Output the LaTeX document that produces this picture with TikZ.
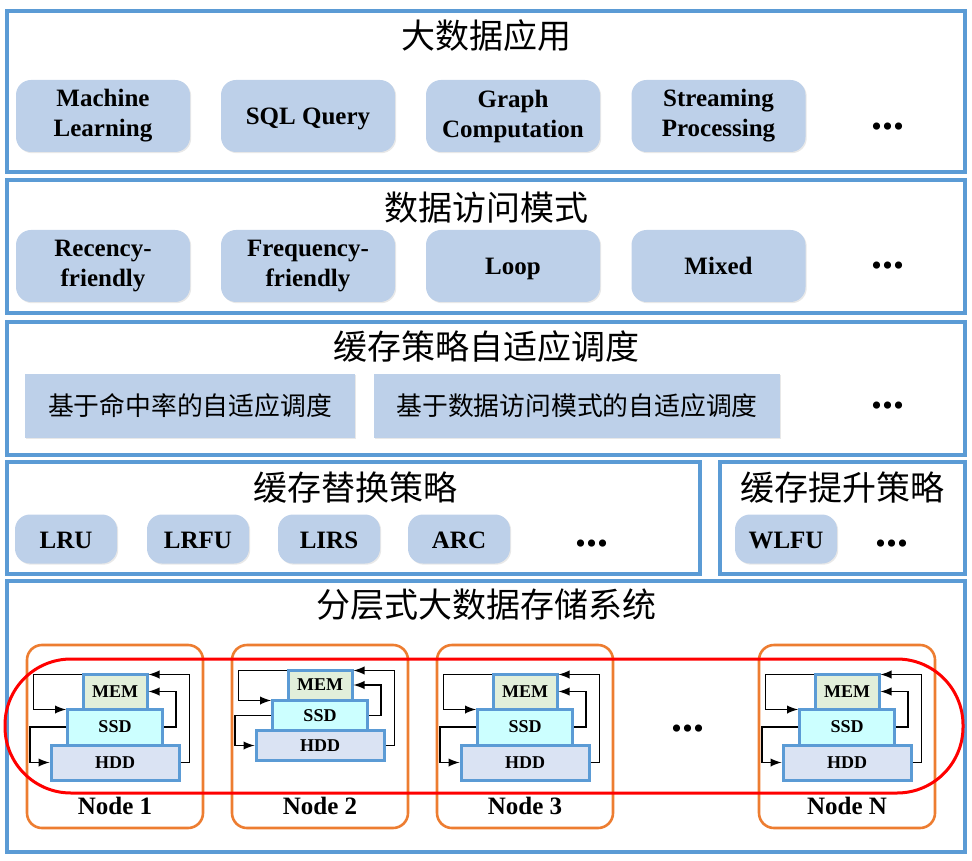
\documentclass[tikz,border=0pt]{standalone}
\usepackage{fontspec}
\setmainfont{Liberation Serif}
\newfontfamily\cjk{Noto Sans CJK SC}
\usetikzlibrary{positioning,calc,shadows}
\definecolor{layerblue}{RGB}{91,155,213}
\definecolor{pillfill}{RGB}{189,208,233}
\definecolor{memfill}{RGB}{226,239,218}
\definecolor{ssdfill}{RGB}{204,255,255}
\definecolor{hddfill}{RGB}{218,227,243}
\definecolor{nodeorange}{RGB}{237,125,49}
\tikzset{
  layer/.style={draw=layerblue,line width=2pt,inner sep=0pt},
  title/.style={font=\cjk\fontsize{17}{20}\selectfont},
  pill/.style={fill=pillfill,rounded corners=7.5pt,align=center,
    font=\bfseries\fontsize{12.5}{15}\selectfont,
    drop shadow={opacity=0.18,shadow xshift=0.6pt,shadow yshift=-0.6pt}},
  bigpill/.style={pill,minimum width=87pt,minimum height=36pt},
  oneline/.style={text height=10pt,text depth=1pt},
  smallpill/.style={pill,oneline,minimum width=51pt,minimum height=24.5pt},
  plainbox/.style={pill,rounded corners=0pt,font=\cjk\fontsize{12.9}{15}\selectfont,minimum height=32pt},
  dots/.style={font=\bfseries\fontsize{22}{22}\selectfont,inner sep=0pt},
  tier/.style={draw=layerblue,line width=1.5pt,font=\bfseries\fontsize{9}{11}\selectfont,inner sep=0pt},
  mem/.style={tier,fill=memfill,minimum width=32pt,minimum height=17.5pt},
  ssd/.style={tier,fill=ssdfill,minimum width=47.5pt,minimum height=18pt},
  hdd/.style={tier,fill=hddfill,minimum width=64pt,minimum height=17.5pt},
  server/.style={draw=nodeorange,line width=1.3pt,rounded corners=7.5pt,minimum width=88pt,minimum height=91.5pt},
  nodelabel/.style={font=\bfseries\fontsize{12.5}{15}\selectfont},
  flow/.style={line width=0.9pt,-latex},
}

\begin{document}
\begin{tikzpicture}[x=0.5pt,y=-0.5pt]
      \useasboundingbox (0,0) rectangle (972,860);
      % 各层外框
      \node[layer,minimum width=479pt,minimum height=80.5pt] (L1) at (486,91.5) {};
      \node[layer,minimum width=479pt,minimum height=66.5pt] (L2) at (486,246.5) {};
      \node[layer,minimum width=479pt,minimum height=66.5pt] (L3) at (486,388.5) {};
      \node[layer,minimum width=346.5pt,minimum height=56pt] (L4a) at (353.5,518) {};
      \node[layer,minimum width=122.5pt,minimum height=56pt] (L4b) at (842.5,518) {};
      \node[layer,minimum width=479pt,minimum height=135.5pt] (L5) at (486,716.5) {};

      % 大数据应用
      \node[title] (t1) at (486,36) {大数据应用};
      \node[bigpill] (ml) at (103,116) {Machine\\Learning};
      \node[bigpill,oneline] (sql) at (308,116) {SQL Query};
      \node[bigpill] (gc) at (513,116) {Graph\\Computation};
      \node[bigpill] (sp) at (718.5,116) {Streaming\\Processing};
      \node[dots] (d1) at (888,127) {...};

      % 数据访问模式
      \node[title] (t2) at (486,208) {数据访问模式};
      \node[bigpill] (rf) at (103,266) {Recency-\\friendly};
      \node[bigpill] (ff) at (308,266) {Frequency-\\friendly};
      \node[bigpill,oneline] (lp) at (513,266) {Loop};
      \node[bigpill,oneline] (mx) at (718.5,266) {Mixed};
      \node[dots] (d2) at (888,266) {...};

      % 缓存策略自适应调度
      \node[title] (t3) at (486,347) {缓存策略自适应调度};
      \node[plainbox,minimum width=165pt] (hit) at (190,406) {基于命中率的自适应调度};
      \node[plainbox,minimum width=203pt] (pat) at (577,406) {基于数据访问模式的自适应调度};
      \node[dots] (d3) at (888,406) {...};

      % 缓存替换策略 / 缓存提升策略
      \node[title] (t4a) at (355,488) {缓存替换策略};
      \node[smallpill] (lru) at (66,539) {LRU};
      \node[smallpill] (lrfu) at (198,539) {LRFU};
      \node[smallpill] (lirs) at (329,539) {LIRS};
      \node[smallpill] (arc) at (459,539) {ARC};
      \node[dots] (d4) at (592,544) {...};
      \node[title] (t4b) at (842,488) {缓存提升策略};
      \node[smallpill] (wlfu) at (786,539) {WLFU};
      \node[dots] (d5) at (892,544) {...};

      % 分层式大数据存储系统
      \node[title] (t5) at (486,605) {分层式大数据存储系统};
      \node[server] (n1) at (115,736.5) {};
      \node[server] (n2) at (320,736.5) {};
      \node[server] (n3) at (525,736.5) {};
      \node[server] (n4) at (847,736.5) {};
      \node[nodelabel] (n1l) at (115,806) {Node 1};
      \node[nodelabel] (n2l) at (320,806) {Node 2};
      \node[nodelabel] (n3l) at (525,806) {Node 3};
      \node[nodelabel] (n4l) at (847,806) {Node N};
      \node[dots] (d6) at (688,729) {...};

      % 存储层次
      \node[mem] (mem1) at (115,691.5) {MEM};
      \node[ssd] (ssd1) at (115,727) {SSD};
      \node[hdd] (hdd1) at (115,762.5) {HDD};
      \node[mem,minimum height=15pt] (mem2) at (320,685) {MEM};
      \node[ssd,minimum height=15.5pt] (ssd2) at (320,715.5) {SSD};
      \node[hdd,minimum height=15pt] (hdd2) at (320,745.5) {HDD};
      \node[mem] (mem3) at (525,691.5) {MEM};
      \node[ssd] (ssd3) at (525,727) {SSD};
      \node[hdd] (hdd3) at (525,762.5) {HDD};
      \node[mem] (mem4) at (847,691.5) {MEM};
      \node[ssd] (ssd4) at (847,727) {SSD};
      \node[hdd] (hdd4) at (847,762.5) {HDD};

      % 数据迁移
      \draw[flow] ([yshift=-1pt]mem1.north west) -- ++(-48,0) |- ([yshift=-1pt]ssd1.north west);
      \draw[flow] (ssd1.west) -- ++(-36,0) |- (hdd1.west);
      \draw[flow] (ssd1.east) -- ++(12,0) |- (mem1.east);
      \draw[flow] (hdd1.east) -- ++(9,0) |- ([yshift=-1pt]mem1.north east);
      \draw[flow] ([yshift=-1pt]mem2.north west) -- ++(-48,0) |- ([yshift=-1pt]ssd2.north west);
      \draw[flow] (ssd2.west) -- ++(-36,0) |- (hdd2.west);
      \draw[flow] (ssd2.east) -- ++(12,0) |- (mem2.east);
      \draw[flow] (hdd2.east) -- ++(9,0) |- ([yshift=-1pt]mem2.north east);
      \draw[flow] ([yshift=-1pt]mem3.north west) -- ++(-48,0) |- ([yshift=-1pt]ssd3.north west);
      \draw[flow] (ssd3.west) -- ++(-36,0) |- (hdd3.west);
      \draw[flow] (ssd3.east) -- ++(12,0) |- (mem3.east);
      \draw[flow] (hdd3.east) -- ++(9,0) |- ([yshift=-1pt]mem3.north east);
      \draw[flow] ([yshift=-1pt]mem4.north west) -- ++(-48,0) |- ([yshift=-1pt]ssd4.north west);
      \draw[flow] (ssd4.west) -- ++(-36,0) |- (hdd4.west);
      \draw[flow] (ssd4.east) -- ++(12,0) |- (mem4.east);
      \draw[flow] (hdd4.east) -- ++(9,0) |- ([yshift=-1pt]mem4.north east);

      % 红色框
      \node[draw=red,line width=1.5pt,rounded corners=33pt,minimum width=479pt,minimum height=67pt] (ring) at (484,726) {};
    \end{tikzpicture}
\end{document}
